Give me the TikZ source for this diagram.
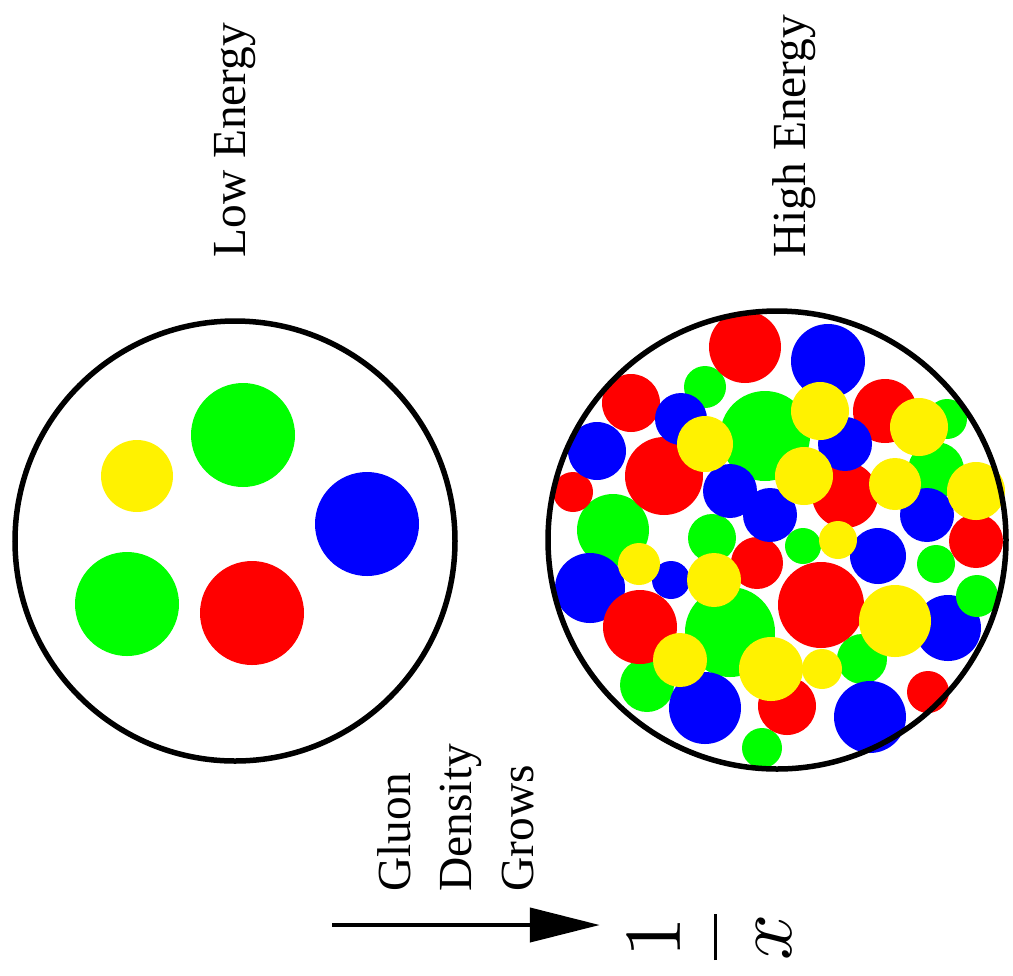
\documentclass[tikz,border=0pt]{standalone}
\usepackage{fontspec}
\setmainfont{Liberation Serif}
\usetikzlibrary{arrows.meta}

\begin{document}
\begin{tikzpicture}[
      x=0.2mm, y=0.2mm,
      ring/.style={draw=black, line width=1.1mm},
      lbl/.style={rotate=90, inner sep=0pt, font=\fontsize{27}{35}\selectfont},
      arrow/.style={-{Triangle[length=14mm, width=6.8mm]}, line width=0.85mm},
    ]
    \useasboundingbox (0,0) rectangle (1013,-975);

    % low energy proton: few partons
    \fill[yellow] (137,-476) circle (36);
    \fill[green]  (243,-435) circle (52);
    \fill[blue]   (367,-524) circle (52);
    \fill[green]  (127,-604) circle (52);
    \fill[red]    (252,-613) circle (52);
    \draw[ring] (235,-541) circle (220);

    % high energy proton: many gluons
    \foreach \cx/\cy/\r/\col in {
        705/387/21/green, 765/436/45/green, 613/530/36/green, 712/538/24/green,
        947/419/20/green, 936/470/28/green, 803/546/18/green, 730/632/45/green,
        647/685/27/green, 762/748/20/green, 936/564/19/green, 862/659/25/green,
        745/347/36/red, 631/403/29/red, 664/476/39/red, 573/492/20/red,
        757/563/26/red, 885/411/32/red, 845/495/33/red, 976/541/27/red,
        821/605/43/red, 787/706/29/red, 928/692/21/red,
        828/361/37/blue, 681/419/26/blue, 597/451/29/blue, 730/491/27/blue,
        770/515/27/blue, 845/444/27/blue, 927/515/27/blue, 878/556/28/blue,
        590/588/35/blue, 671/580/19/blue, 705/708/36/blue, 948/628/33/blue,
        870/717/36/blue,
        640/627/37/red, 977/596/21/green,
        705/444/28/yellow, 820/411/29/yellow, 919/427/29/yellow, 804/476/29/yellow,
        895/484/26/yellow, 976/491/29/yellow, 838/540/19/yellow, 639/564/21/yellow,
        714/580/27/yellow, 680/660/27/yellow, 771/669/32/yellow, 895/621/36/yellow,
        822/669/20/yellow}
      \fill[\col] (\cx,-\cy) circle (\r);
    \draw[ring] (777,-540) circle (229);

    % labels
    \node[lbl, anchor=base west] (low) at (245,-258) {Low Energy};
    \node[lbl, anchor=base west] (high) at (805,-258) {High Energy};
    \node[lbl, anchor=north west, align=left] (grow) at (377,-892) {Gluon\\Density\\Grows};

    % 1/x axis
    \node[rotate=90, scale=4.6, inner sep=0pt] (invx) at (710,-937) {$\displaystyle\frac{1}{x}$};
    \coordinate (arrstart) at (332,-925);
    \draw[arrow, shorten >=5.5mm] (arrstart) -- (arrstart -| invx.north);
  \end{tikzpicture}
\end{document}
